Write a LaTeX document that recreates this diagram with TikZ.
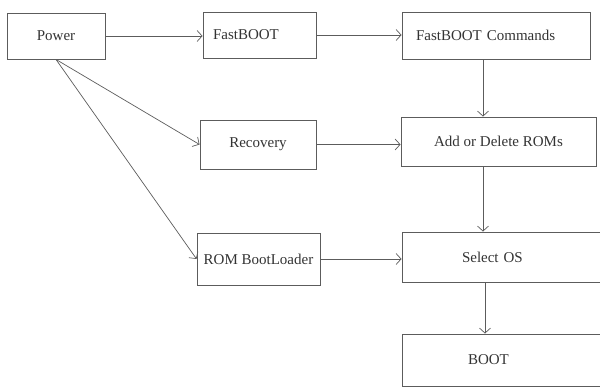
\documentclass[tikz,border=0pt]{standalone}
\usepackage{fontspec}
\setmainfont{Liberation Serif}
\definecolor{boxgray}{rgb}{0.36,0.36,0.36}
\definecolor{textgray}{rgb}{0.2,0.2,0.2}
\usepackage{tikz}
\usetikzlibrary{arrows.meta, positioning, calc}
\newcommand{\flow}[2]
{
	\draw[arr] (#1.east) -- (#1.east -| #2.west)
}

\begin{document}
\begin{tikzpicture}[x=1pt, y=-1pt,
	every node/.append style={shape=rectangle, draw=boxgray, line width=0.9pt, text=textgray, font=\fontsize{15}{18}\selectfont},
	arr/.style={draw=boxgray, line width=0.7pt, -{Straight Barb[length=5pt, width=11pt]}}]
	\clip (0,0) rectangle (600,388);
	\node[minimum width=98pt, minimum height=46pt] at (56,36) (pw){Power};
	\node[inner xsep=10pt, text width=93pt, align=left, minimum height=46pt] at (259.5,35) (fb){FastBOOT};
	\node[inner xsep=14pt, text width=160pt, align=left, minimum height=47pt] at (496,35.5) (fbc){FastBOOT Commands};
	\node[minimum width=116pt, minimum height=49pt] at (258,144.5) (rec){Recovery};
	\node[minimum width=195pt, minimum height=49pt] at (498.5,141.5) (adr){Add or Delete ROMs};
	\node[minimum width=123pt, minimum height=52pt] at (258.5,259) (rbl){ROM BootLoader};
	\node[inner xsep=60pt, text width=100pt, align=left, minimum height=50pt] at (512,257) (sel){Select OS};
	\node[inner xsep=66pt, text width=88pt, align=left, minimum height=52pt] at (512,360) (boot){BOOT};
		\foreach \a/\b in {pw/fb, fb/fbc, rec/adr, rbl/sel}
			\flow{\a}{\b};
		\draw[arr] (pw.south) -- (rec.west);
		\draw[arr] (pw.south) -- (rbl.west);
		\draw[arr] ([xshift=-13pt]fbc.south) -- ([xshift=-13pt]fbc.south |- adr.north);
		\draw[arr] ([xshift=-15.5pt]adr.south) -- ([xshift=-15.5pt]adr.south |- sel.north);
		\draw[arr] ([xshift=-27pt]sel.south) -- ([xshift=-27pt]sel.south |- boot.north);
	\end{tikzpicture}
\end{document}
